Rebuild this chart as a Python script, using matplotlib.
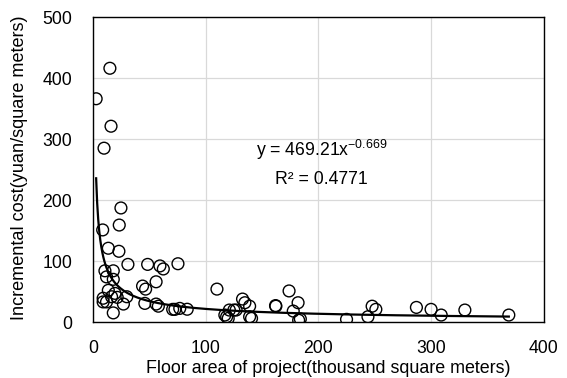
import numpy as np
import matplotlib
matplotlib.use("Agg")
import matplotlib.pyplot as plt

plt.rcParams['font.family'] = ['Liberation Sans', 'DejaVu Sans']

# Floor area (thousand m2) and incremental cost (yuan/m2)
floor_area = [15, 2.8, 16, 9.8, 24.8, 8.6, 23.3, 13.6, 23, 31, 48.5, 59.4, 62.4, 75.4,
              10.6, 18, 12, 18, 56, 44, 46.7, 110, 13.6, 19.5, 16.5, 21.5, 9, 30,
              12, 9, 27, 46, 56, 58, 18, 70.7, 72.7, 77, 83.6,
              132.7, 134.8, 139, 127, 121, 117, 120, 118.6, 140.7, 139, 125,
              162.3, 162, 174, 182, 177.7, 184, 182.5, 225, 244, 247.7, 251,
              287, 300, 309, 330, 369]
cost = [416, 366, 321, 285, 187, 151, 159, 121, 116, 94.5, 94.5, 92, 87, 95.6,
        84, 84, 74, 70, 66, 59, 54, 54, 52, 47, 41.5, 40.5, 39, 41.5,
        33, 33, 29.5, 30.6, 29.5, 26, 15, 20.8, 20.8, 22.4, 21,
        37.7, 31.7, 26, 19.7, 19.7, 11.5, 6, 8.7, 6, 8.7, 19.7,
        26, 27, 51, 31.7, 18, 5, 3, 4.4, 8.7, 26, 20.8,
        24, 20.8, 11.5, 19.7, 11.5]

# Power trendline shown on chart
coef_a = 469.21
coef_b = -0.669
r_squared = 0.4771

x_ticks = [0, 100, 200, 300, 400]
y_ticks = [0, 100, 200, 300, 400, 500]

fig = plt.figure(figsize=(5.67, 3.78), dpi=100)
ax = fig.add_axes([0.164, 0.148, 0.795, 0.807])

ax.scatter(floor_area, cost, s=72, facecolors='none', edgecolors='black',
           linewidths=1.0, zorder=3)

xc = np.linspace(min(floor_area), max(floor_area), 400)
ax.plot(xc, coef_a * xc ** coef_b, color='black', lw=1.6, zorder=4)

ax.set_xlim(0, 400)
ax.set_ylim(0, 500)
ax.set_xticks(x_ticks)
ax.set_yticks(y_ticks)
ax.grid(True, color='#d9d9d9', lw=0.9)
ax.set_axisbelow(True)
for s in ax.spines.values():
    s.set_color('black')
    s.set_linewidth(1.0)
ax.tick_params(length=0, labelsize=12.7)
ax.tick_params(axis='x', pad=13)
ax.tick_params(axis='y', pad=15)

ax.set_xlabel('Floor area of project(thousand square meters)', fontsize=12.9)
ax.xaxis.set_label_coords(0.523, -0.125)
ax.set_ylabel('Incremental cost(yuan/square meters)', fontsize=13.1)
ax.yaxis.set_label_coords(-0.144, 0.505)

ax.text(203, 282, r'y = 469.21x$^{\mathregular{-0.669}}$', ha='center', va='center', fontsize=12.7)
ax.text(203, 234, 'R² = %.4f' % r_squared, ha='center', va='center', fontsize=12.7)

fig.savefig('out.png', dpi=100)
